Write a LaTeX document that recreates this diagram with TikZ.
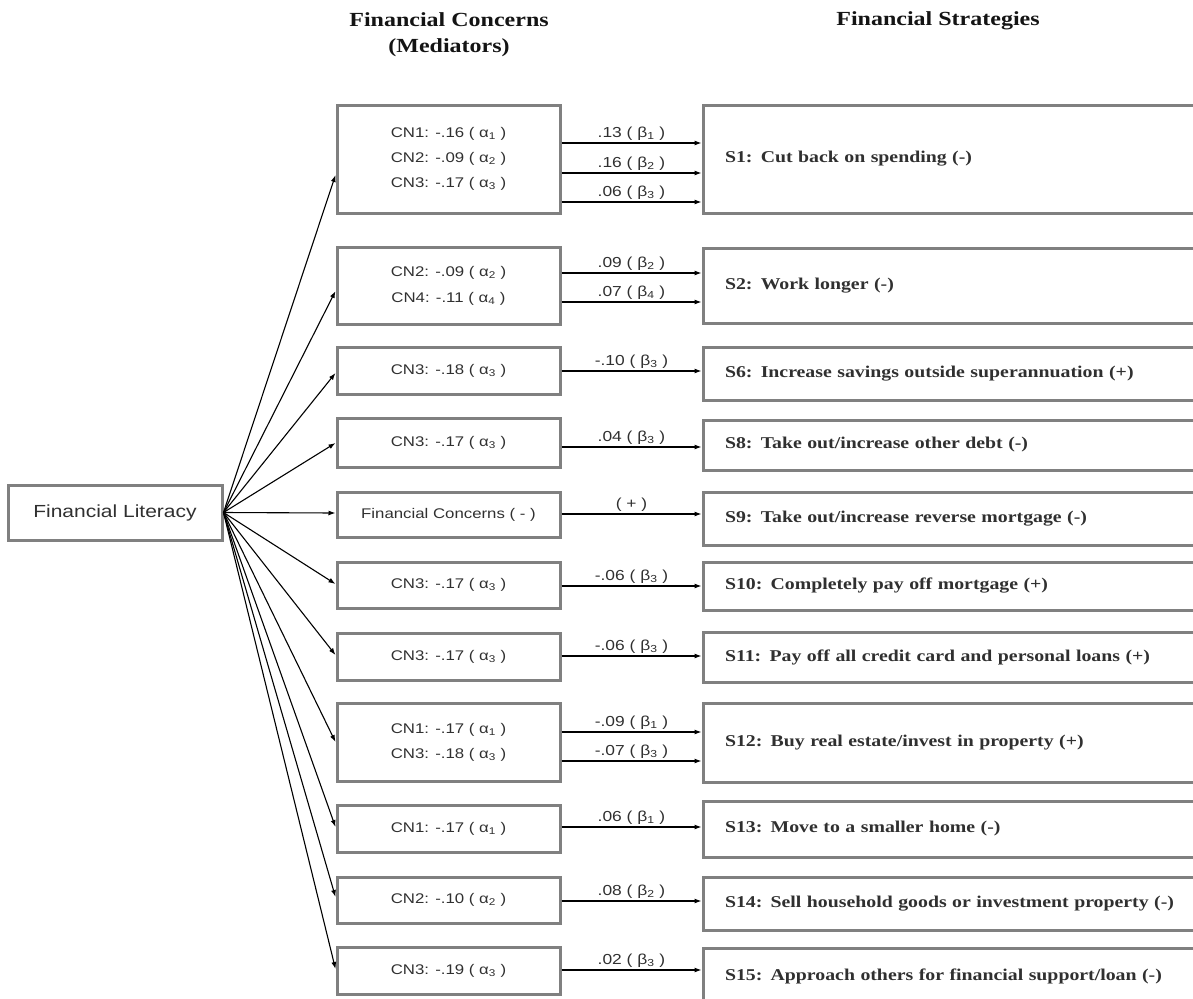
\documentclass[tikz,border=0pt]{standalone}
\usepackage{fontspec}
\usetikzlibrary{arrows.meta}
\newfontfamily\medfont{Liberation Sans}[FakeStretch=1.2]
\newfontfamily\strfont{Liberation Serif}[FakeStretch=1.2]
\definecolor{txt}{RGB}{48,48,48}
\definecolor{ttl}{RGB}{20,20,20}
\definecolor{bord}{RGB}{128,128,128}
\newcommand{\al}[1]{( α\textsubscript{#1} )}
\newcommand{\be}[1]{( β\textsubscript{#1} )}
\begin{document}
\begin{tikzpicture}[x=1pt,y=-1pt,
 medbox/.style={draw=bord, line width=3pt, minimum width=223pt, text=txt,
   font=\medfont\fontsize{14}{25}\selectfont, align=center, inner sep=0pt},
 strbox/.style={draw=bord, line width=3pt, text width=458pt, inner xsep=22pt,
   inner ysep=0pt, align=left, text=txt, font=\strfont\bfseries\fontsize{16.5}{20}\selectfont},
 arr/.style={-{Latex[length=7pt,width=5pt]}, line width=1.1pt},
 lab/.style={above, inner sep=2pt, text=txt, font=\medfont\fontsize{14.5}{16}\selectfont},
 title/.style={align=center, text=ttl, font=\strfont\bfseries\fontsize{20}{26}\selectfont}]
\useasboundingbox (0,0) rectangle (1193,998);
\clip (0,0) rectangle (1193,998);

% titles
\node[title] (t1) at (449,35) {Financial Concerns\\(Mediators)};
\node[title] (t2) at (938,21) {Financial Strategies};

% source
\node[draw=bord, line width=3pt, minimum width=214pt, minimum height=55pt,
  font=\medfont\fontsize{17.5}{20}\selectfont, text=txt] (fl) at (115,512.5) {Financial Literacy};

% mediators
\node[medbox, minimum height=108pt] (m1) at (448.5,159) {CN1: -.16 \al1\\CN2: -.09 \al2\\CN3: -.17 \al3};
\node[medbox, minimum height=77pt] (m2) at (448.5,285.5) {CN2: -.09 \al2\\[1pt]CN4: -.11 \al4};
\node[medbox, minimum height=47pt] (m3) at (448.5,370.5) {CN3: -.18 \al3};
\node[medbox, minimum height=49pt] (m4) at (448.5,442.5) {CN3: -.17 \al3};
\node[medbox, minimum height=45pt] (m5) at (448.5,514.5) {Financial Concerns ( - )};
\node[medbox, minimum height=46pt] (m6) at (448.5,585) {CN3: -.17 \al3};
\node[medbox, minimum height=47pt] (m7) at (448.5,656.5) {CN3: -.17 \al3};
\node[medbox, minimum height=78pt] (m8) at (448.5,742) {CN1: -.17 \al1\\CN3: -.18 \al3};
\node[medbox, minimum height=47pt] (m9) at (448.5,828.5) {CN1: -.17 \al1};
\node[medbox, minimum height=46pt] (m10) at (448.5,900) {CN2: -.10 \al2};
\node[medbox, minimum height=47pt] (m11) at (448.5,970.5) {CN3: -.19 \al3};

% strategies
\node[strbox, minimum height=108pt] (s1) at (954,159) {S1: Cut back on spending (-)};
\node[strbox, minimum height=75pt] (s2) at (954,285.5) {S2: Work longer (-)};
\node[strbox, minimum height=53pt] (s6) at (954,373.5) {S6: Increase savings outside superannuation (+)};
\node[strbox, minimum height=50pt] (s8) at (954,445) {S8: Take out/increase other debt (-)};
\node[strbox, minimum height=53pt] (s9) at (954,518.5) {S9: Take out/increase reverse mortgage (-)};
\node[strbox, minimum height=48pt] (s10) at (954,586) {S10: Completely pay off mortgage (+)};
\node[strbox, minimum height=50pt] (s11) at (954,657) {S11: Pay off all credit card and personal loans (+)};
\node[strbox, minimum height=79pt] (s12) at (954,742.5) {S12: Buy real estate/invest in property (+)};
\node[strbox, minimum height=56pt] (s13) at (954,829) {S13: Move to a smaller home (-)};
\node[strbox, minimum height=53pt] (s14) at (954,903.5) {S14: Sell household goods or investment property (-)};
\node[strbox, minimum height=56pt] (s15) at (954,976) {S15: Approach others for financial support/loan (-)};

% literacy -> mediators
\draw[arr] (fl.east) -- (m1.west |- 0,175);
\draw[arr] (fl.east) -- (m2.west |- 0,291);
\draw[arr] (fl.east) -- (m3.west |- 0,373);
\draw[arr] (fl.east) -- (m4.west |- 0,443);
\draw[arr] (fl.east) -- (m5.west |- 0,513);
\draw[arr] (fl.east) -- (m6.west |- 0,584);
\draw[arr] (fl.east) -- (m7.west |- 0,655);
\draw[arr] (fl.east) -- (m8.west |- 0,742);
\draw[arr] (fl.east) -- (m9.west |- 0,827);
\draw[arr] (fl.east) -- (m10.west |- 0,897);
\draw[arr] (fl.east) -- (m11.west |- 0,969);

% mediators -> strategies
\draw[arr] (m1.east |- 0,143) -- node[lab]{.13 \be1} (s1.west |- 0,143);
\draw[arr] (m1.east |- 0,173) -- node[lab]{.16 \be2} (s1.west |- 0,173);
\draw[arr] (m1.east |- 0,202) -- node[lab]{.06 \be3} (s1.west |- 0,202);
\draw[arr] (m2.east |- 0,273) -- node[lab]{.09 \be2} (s2.west |- 0,273);
\draw[arr] (m2.east |- 0,302) -- node[lab]{.07 \be4} (s2.west |- 0,302);
\draw[arr] (m3.east |- 0,371) -- node[lab]{-.10 \be3} (s6.west |- 0,371);
\draw[arr] (m4.east |- 0,447) -- node[lab]{.04 \be3} (s8.west |- 0,447);
\draw[arr] (m5.east |- 0,514) -- node[lab]{( + )} (s9.west |- 0,514);
\draw[arr] (m6.east |- 0,586) -- node[lab]{-.06 \be3} (s10.west |- 0,586);
\draw[arr] (m7.east |- 0,656) -- node[lab]{-.06 \be3} (s11.west |- 0,656);
\draw[arr] (m8.east |- 0,732) -- node[lab]{-.09 \be1} (s12.west |- 0,732);
\draw[arr] (m8.east |- 0,761) -- node[lab]{-.07 \be3} (s12.west |- 0,761);
\draw[arr] (m9.east |- 0,827) -- node[lab]{.06 \be1} (s13.west |- 0,827);
\draw[arr] (m10.east |- 0,901) -- node[lab]{.08 \be2} (s14.west |- 0,901);
\draw[arr] (m11.east |- 0,970) -- node[lab]{.02 \be3} (s15.west |- 0,970);
\end{tikzpicture}
\end{document}
